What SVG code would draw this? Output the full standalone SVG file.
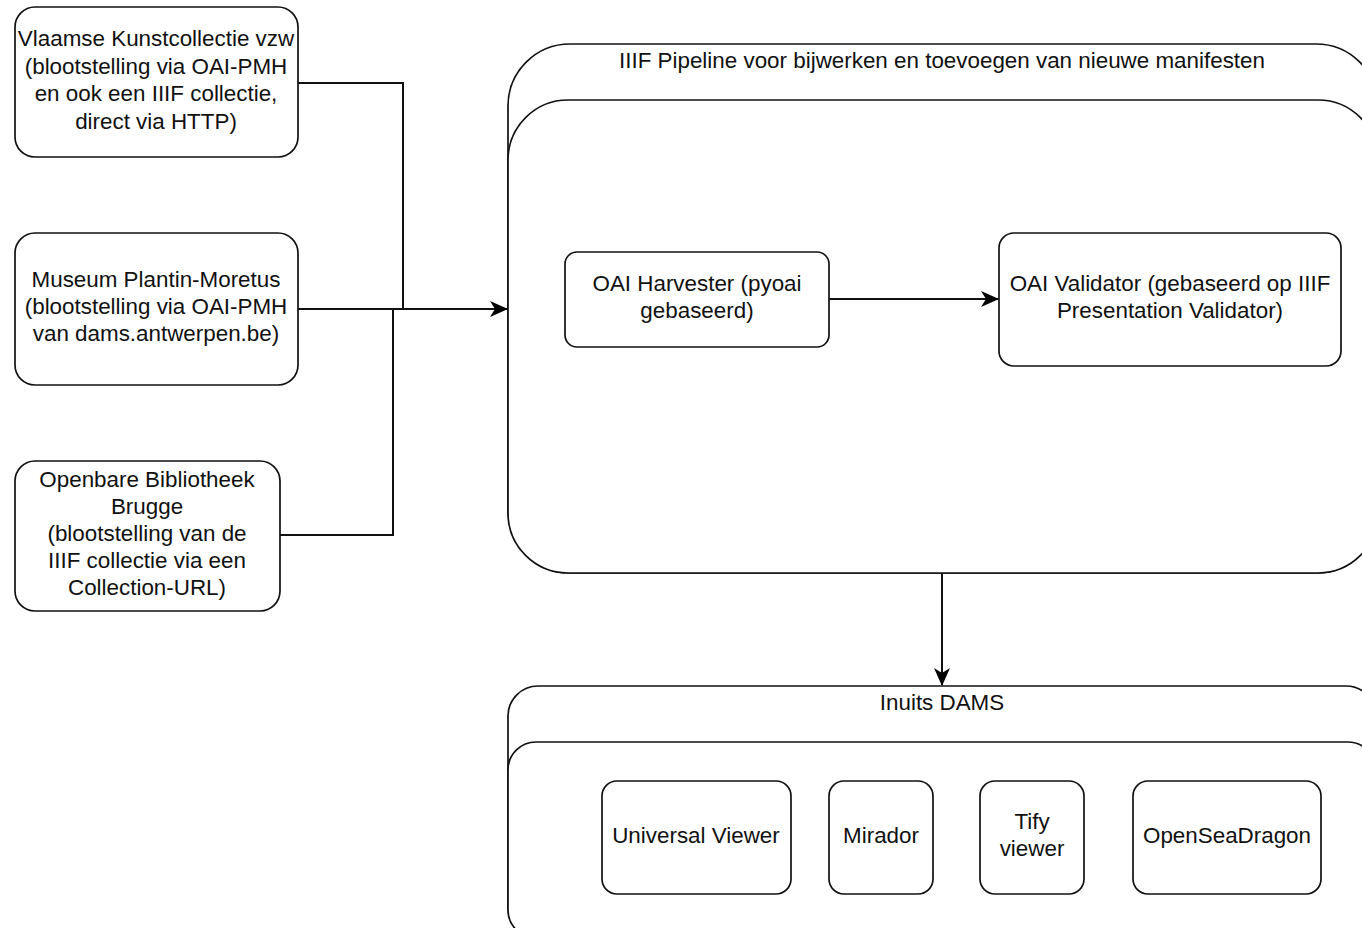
<svg xmlns="http://www.w3.org/2000/svg" width="1362" height="928" viewBox="0 0 1362 928">
<defs>
<marker id="arr" viewBox="0 0 18 16" refX="17" refY="8" markerWidth="18" markerHeight="16" markerUnits="userSpaceOnUse" orient="auto">
<path d="M0,0 L18,8 L0,16 L5,8 Z" fill="#000"/>
</marker>
<style>
.box{fill:#fff;stroke:#111;stroke-width:1.7}
.cont{fill:#fff;stroke:#111;stroke-width:1.7}
.t{font-family:"Liberation Sans",Arial,Helvetica,sans-serif;font-size:22.4px;fill:#111;text-anchor:middle}
.c{fill:none;stroke:#111;stroke-width:2}
</style>
</defs>
<rect width="1362" height="928" fill="#fff"/>

<g id="pipeline">
<rect class="cont" x="508" y="44" width="870" height="529" rx="62" ry="62"/>
<rect class="cont" x="508" y="100" width="870" height="473" rx="60" ry="60"/>
<text class="t" x="942" y="68">IIIF Pipeline voor bijwerken en toevoegen van nieuwe manifesten</text>
</g>

<g id="dams">
<rect class="cont" x="508" y="686" width="868" height="252" rx="30" ry="30"/>
<rect class="cont" x="508" y="742" width="868" height="196" rx="28" ry="28"/>
<text class="t" x="942" y="710">Inuits DAMS</text>
</g>

<g id="vlaamse">
<rect class="box" x="15" y="7" width="283" height="150" rx="20" ry="20"/>
<text class="t"><tspan x="156" y="46">Vlaamse Kunstcollectie vzw</tspan><tspan x="156" y="73.5">(blootstelling via OAI-PMH</tspan><tspan x="156" y="101">en ook een IIIF collectie,</tspan><tspan x="156" y="128.5">direct via HTTP)</tspan></text>
</g>

<g id="plantin">
<rect class="box" x="15" y="233" width="283" height="152" rx="20" ry="20"/>
<text class="t"><tspan x="156" y="287">Museum Plantin-Moretus</tspan><tspan x="156" y="314">(blootstelling via OAI-PMH</tspan><tspan x="156" y="341">van dams.antwerpen.be)</tspan></text>
</g>

<g id="brugge">
<rect class="box" x="15" y="461" width="265" height="150" rx="20" ry="20"/>
<text class="t"><tspan x="147" y="487">Openbare Bibliotheek</tspan><tspan x="147" y="514">Brugge</tspan><tspan x="147" y="541">(blootstelling van de</tspan><tspan x="147" y="568">IIIF collectie via een</tspan><tspan x="147" y="595">Collection-URL)</tspan></text>
</g>

<g id="harvester">
<rect class="box" x="565" y="252" width="264" height="95" rx="12" ry="12"/>
<text class="t"><tspan x="697" y="291">OAI Harvester (pyoai</tspan><tspan x="697" y="318">gebaseerd)</tspan></text>
</g>

<g id="validator">
<rect class="box" x="999" y="233" width="342" height="133" rx="15" ry="15"/>
<text class="t"><tspan x="1170" y="291">OAI Validator (gebaseerd op IIIF</tspan><tspan x="1170" y="318">Presentation Validator)</tspan></text>
</g>

<g id="uv">
<rect class="box" x="602" y="781" width="189" height="113" rx="15" ry="15"/>
<text class="t" x="696" y="843">Universal Viewer</text>
</g>
<g id="mirador">
<rect class="box" x="829" y="781" width="104" height="113" rx="15" ry="15"/>
<text class="t" x="881" y="843">Mirador</text>
</g>
<g id="tify">
<rect class="box" x="980" y="781" width="104" height="113" rx="15" ry="15"/>
<text class="t"><tspan x="1032" y="829">Tify</tspan><tspan x="1032" y="856">viewer</tspan></text>
</g>
<g id="osd">
<rect class="box" x="1133" y="781" width="188" height="113" rx="15" ry="15"/>
<text class="t" x="1227" y="843">OpenSeaDragon</text>
</g>

<g id="connectors">
<path class="c" d="M298,83 L403,83 L403,309"/>
<path class="c" d="M280,535 L393,535 L393,309"/>
<path class="c" d="M298,309 L507,309" marker-end="url(#arr)"/>
<path class="c" d="M829,299 L998,299" marker-end="url(#arr)"/>
<path class="c" d="M942,573 L942,685" marker-end="url(#arr)"/>
</g>
</svg>
